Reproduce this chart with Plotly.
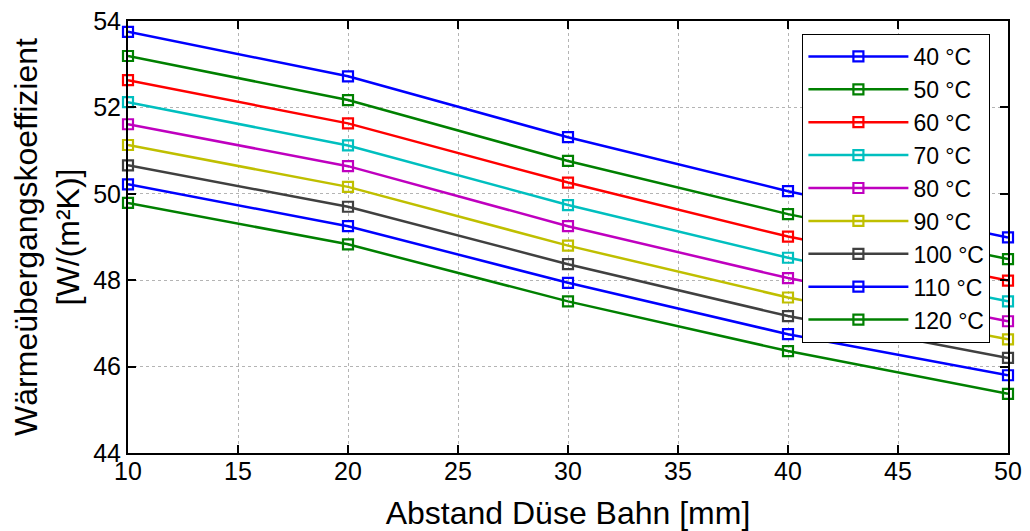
import plotly.graph_objects as go

# Data
abstand_mm = [10, 20, 30, 40, 50]
temperatures = ["40 °C", "50 °C", "60 °C", "70 °C", "80 °C", "90 °C", "100 °C", "110 °C", "120 °C"]
htc_40 = [53.75, 52.72, 51.31, 50.06, 48.99]
htc_50 = [53.19, 52.17, 50.76, 49.53, 48.49]
htc_60 = [52.63, 51.63, 50.26, 49.01, 47.99]
htc_70 = [52.12, 51.12, 49.74, 48.52, 47.51]
htc_80 = [51.61, 50.64, 49.25, 48.05, 47.05]
htc_90 = [51.13, 50.16, 48.80, 47.60, 46.63]
htc_100 = [50.66, 49.70, 48.37, 47.17, 46.20]
htc_110 = [50.22, 49.25, 47.94, 46.75, 45.80]
htc_120 = [49.79, 48.83, 47.51, 46.36, 45.37]
series = [htc_40, htc_50, htc_60, htc_70, htc_80, htc_90, htc_100, htc_110, htc_120]

colors = ["#0000ff", "#008000", "#ff0000", "#00bfbf", "#bf00bf",
          "#bfbf00", "#404040", "#0000ff", "#008000"]

x_ticks = [10, 15, 20, 25, 30, 35, 40, 45, 50]
y_ticks = [44, 46, 48, 50, 52, 54]

FONT = "Liberation Sans, Arial, sans-serif"

fig = go.Figure()
for name, vals, col in zip(temperatures, series, colors):
    fig.add_trace(go.Scatter(
        x=abstand_mm, y=vals, name=name, mode="lines+markers",
        line=dict(color=col, width=2.5),
        marker=dict(symbol="square-open", size=10, color=col, line=dict(width=2.2, color=col)),
        cliponaxis=False,
    ))

axis_common = dict(
    showline=True, linecolor="black", linewidth=2, mirror="allticks",
    ticks="inside", ticklen=8, tickwidth=1.5, tickcolor="black",
    showgrid=True, gridcolor="#b4b4b4", griddash="dot", gridwidth=1,
    zeroline=False, automargin=False, ticklabeloverflow="allow",
    tickfont=dict(family=FONT, size=25, color="black"),
)

fig.update_xaxes(range=[10, 50], tickvals=x_ticks, ticklabelstandoff=-5,
                 title=dict(text="Abstand Düse Bahn [mm]", font=dict(family=FONT, size=32, color="black"), standoff=19),
                 **axis_common)
fig.update_yaxes(range=[44, 54], tickvals=y_ticks, ticklabelstandoff=0,
                 title=dict(text="Wärmeübergangskoeffizient<br>[W/(m²K)]", font=dict(family=FONT, size=32, color="black"), standoff=17),
                 **axis_common)

# The page body adds an 8 px offset, so the figure is sized to end at the window edge.
fig.update_layout(
    width=1022, height=523,
    margin=dict(l=120, r=22, t=13, b=78),
    plot_bgcolor="white", paper_bgcolor="white",
    font=dict(family=FONT, color="black"),
    legend=dict(
        x=0.98, y=0.970, xanchor="right", yanchor="top",
        bgcolor="white", bordercolor="black", borderwidth=1,
        font=dict(family=FONT, size=23, color="black"),
        itemwidth=100, tracegroupgap=0,
    ),
    showlegend=True,
)

fig.write_html("out.html")
